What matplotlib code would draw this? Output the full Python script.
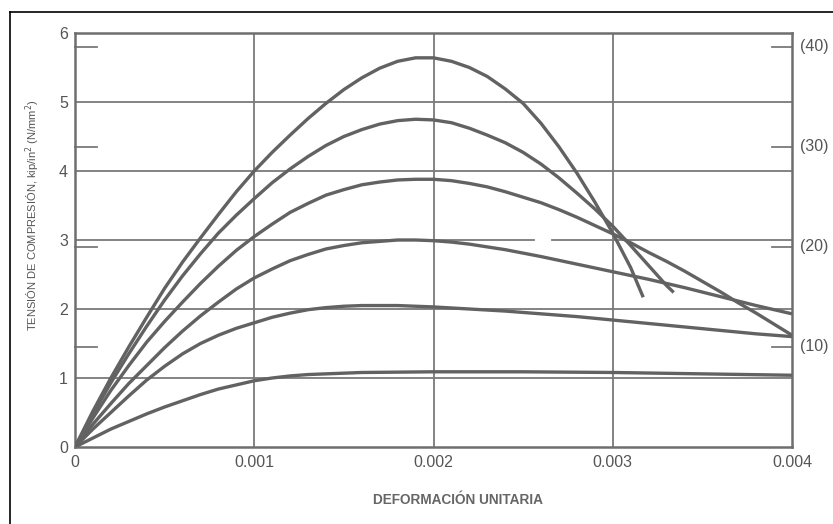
import matplotlib
matplotlib.use("Agg")
import matplotlib.pyplot as plt
from matplotlib.lines import Line2D

# ---- data (strain, stress in kip/in^2) ----
strain_a = [0, 0.0001, 0.0002, 0.0003, 0.0004, 0.0005, 0.0006, 0.0007, 0.0008, 0.0009, 0.001,
            0.0011, 0.0012, 0.0013, 0.0014, 0.0015, 0.0016, 0.0017, 0.0018, 0.0019, 0.002,
            0.0021, 0.0022, 0.0023, 0.0024, 0.0025, 0.0026, 0.0027, 0.0028, 0.0029, 0.003, 0.0031, 0.00317]
stress_a = [0, 0.52, 1.0, 1.45, 1.88, 2.3, 2.68, 3.03, 3.37, 3.7, 4.0,
            4.27, 4.52, 4.76, 4.98, 5.18, 5.35, 5.49, 5.59, 5.64, 5.64,
            5.59, 5.5, 5.37, 5.19, 4.98, 4.69, 4.35, 3.97, 3.55, 3.1, 2.6, 2.17]

strain_b = [0, 0.0001, 0.0002, 0.0003, 0.0004, 0.0005, 0.0006, 0.0007, 0.0008, 0.0009, 0.001,
            0.0011, 0.0012, 0.0013, 0.0014, 0.0015, 0.0016, 0.0017, 0.0018, 0.0019, 0.002,
            0.0021, 0.0022, 0.0023, 0.0024, 0.0025, 0.0026, 0.0027, 0.0028, 0.0029, 0.003,
            0.0031, 0.0032, 0.0033, 0.00334]
stress_b = [0, 0.48, 0.93, 1.35, 1.75, 2.13, 2.48, 2.8, 3.1, 3.36, 3.6,
            3.83, 4.03, 4.21, 4.37, 4.5, 4.6, 4.68, 4.73, 4.75, 4.74,
            4.7, 4.62, 4.52, 4.41, 4.27, 4.1, 3.9, 3.68, 3.45, 3.2,
            2.92, 2.63, 2.34, 2.24]

strain_c = [0, 0.0001, 0.0002, 0.0003, 0.0004, 0.0005, 0.0006, 0.0007, 0.0008, 0.0009, 0.001,
            0.0011, 0.0012, 0.0013, 0.0014, 0.0015, 0.0016, 0.0017, 0.0018, 0.0019, 0.002,
            0.0021, 0.0022, 0.0023, 0.0024, 0.0025, 0.0026, 0.0027, 0.0028, 0.0029, 0.003,
            0.0031, 0.0032, 0.0033, 0.0034, 0.0035, 0.0036, 0.0037, 0.0038, 0.0039, 0.004]
stress_c = [0, 0.42, 0.82, 1.18, 1.52, 1.82, 2.1, 2.37, 2.62, 2.85, 3.05,
            3.23, 3.4, 3.53, 3.65, 3.73, 3.8, 3.84, 3.87, 3.88, 3.88,
            3.86, 3.82, 3.77, 3.7, 3.62, 3.54, 3.44, 3.33, 3.21, 3.09,
            2.96, 2.82, 2.69, 2.55, 2.4, 2.25, 2.09, 1.94, 1.78, 1.62]

strain_d = [0, 0.0001, 0.0002, 0.0003, 0.0004, 0.0005, 0.0006, 0.0007, 0.0008, 0.0009, 0.001,
            0.0011, 0.0012, 0.0013, 0.0014, 0.0015, 0.0016, 0.0017, 0.0018, 0.0019, 0.002,
            0.0021, 0.0022, 0.0023, 0.0024, 0.0026, 0.0028, 0.003, 0.0032, 0.0034, 0.0036, 0.0038, 0.004]
stress_d = [0, 0.33, 0.63, 0.92, 1.18, 1.44, 1.68, 1.9, 2.1, 2.29, 2.45,
            2.58, 2.7, 2.79, 2.87, 2.92, 2.96, 2.98, 3.0, 3.0, 2.99,
            2.97, 2.94, 2.9, 2.86, 2.76, 2.65, 2.54, 2.43, 2.31, 2.18, 2.05, 1.93]

strain_e = [0, 0.0001, 0.0002, 0.0003, 0.0004, 0.0005, 0.0006, 0.0007, 0.0008, 0.0009, 0.001,
            0.0011, 0.0012, 0.0013, 0.0014, 0.0015, 0.0016, 0.0018, 0.002,
            0.0022, 0.0024, 0.0026, 0.0028, 0.003, 0.0032, 0.0034, 0.0036, 0.0038, 0.004]
stress_e = [0, 0.26, 0.5, 0.74, 0.97, 1.17, 1.35, 1.5, 1.62, 1.72, 1.8,
            1.88, 1.94, 1.99, 2.02, 2.04, 2.05, 2.05, 2.03,
            2.0, 1.97, 1.93, 1.89, 1.84, 1.79, 1.74, 1.69, 1.64, 1.6]

strain_f = [0, 0.0001, 0.0002, 0.0003, 0.0004, 0.0005, 0.0006, 0.0007, 0.0008, 0.0009, 0.001,
            0.0011, 0.0012, 0.0013, 0.0014, 0.0016, 0.002, 0.0025, 0.003, 0.0035, 0.004]
stress_f = [0, 0.13, 0.26, 0.37, 0.48, 0.58, 0.67, 0.76, 0.84, 0.9, 0.96,
            1.0, 1.03, 1.05, 1.06, 1.08, 1.09, 1.09, 1.08, 1.06, 1.04]

x_ticks = [0, 0.001, 0.002, 0.003, 0.004]
x_ticklabels = ["0", "0.001", "0.002", "0.003", "0.004"]
y_ticks = [0, 1, 2, 3, 4, 5, 6]
y_ticklabels = ["0", "1", "2", "3", "4", "5", "6"]
si_values = [10, 20, 30, 40]          # N/mm^2
si_labels = ["(10)", "(20)", "(30)", "(40)"]
KSI_PER_MPA = 1 / 6.895

curves = [(strain_a, stress_a), (strain_b, stress_b), (strain_c, stress_c),
          (strain_d, stress_d), (strain_e, stress_e), (strain_f, stress_f)]

FONT = ["Liberation Sans", "DejaVu Sans"]
plt.rcParams["font.family"] = FONT

W, H = 833, 524
fig = plt.figure(figsize=(W / 100, H / 100), dpi=100)
ax = fig.add_axes([75 / W, 1 - 447 / H, (792 - 75) / W, (447 - 33) / H])

grid_c = "#7a7a7a"
curve_c = "#626262"
text_c = "#555555"

ax.set_xlim(0, 0.004)
ax.set_ylim(0, 6)

# grid
for yv in [1, 2, 4, 5]:
    ax.axhline(yv, color=grid_c, lw=1.3, zorder=1)
ax.plot([0, 0.00256], [3, 3], color=grid_c, lw=1.3, zorder=1)
ax.plot([0.00266, 0.004], [3, 3], color=grid_c, lw=1.3, zorder=1)
for xv in [0.001, 0.002, 0.003]:
    ax.axvline(xv, color=grid_c, lw=1.3, zorder=1)

# inward ticks for N/mm^2 on both sides
ytr = ax.get_yaxis_transform()
for v, lab in zip(si_values, si_labels):
    yv = v * KSI_PER_MPA
    ax.plot([0, 0.03], [yv, yv], color=grid_c, lw=1.3, transform=ytr, clip_on=False)
    ax.plot([0.972, 1.0], [yv, yv], color=grid_c, lw=1.3, transform=ytr, clip_on=False)
    ax.text(1.011, yv, lab, transform=ytr, ha="left", va="center", fontsize=11.5, color=text_c)

for sx, sy in curves:
    ax.plot(sx, sy, color=curve_c, lw=2.4, zorder=3, solid_capstyle="butt",
            solid_joinstyle="round")

for s in ax.spines.values():
    s.set_color("#6e6e6e")
    s.set_linewidth(1.8)

ax.set_xticks(x_ticks)
ax.set_xticklabels(x_ticklabels)
ax.set_yticks(y_ticks)
ax.set_yticklabels(y_ticklabels)
ax.tick_params(length=0, labelsize=11.5, labelcolor=text_c)
ax.tick_params(axis="x", pad=6)
ax.tick_params(axis="y", pad=5)

fig.text(458 / W, 1 - 500 / H, "DEFORMACIÓN UNITARIA", ha="center", va="center",
         fontsize=9.8, fontweight="bold", color="#666666")
fig.text(33 / W, 1 - 215 / H, "TENSIÓN DE COMPRESIÓN, kip/in$^2$ (N/mm$^2$)", rotation=90,
         ha="center", va="center", fontsize=8, color=text_c)

# outer frame
fig.add_artist(Line2D([10 / W, 1], [1 - 12 / H, 1 - 12 / H], color="black", lw=1.2))
fig.add_artist(Line2D([10 / W, 10 / W], [0, 1 - 12 / H], color="black", lw=1.2))

fig.savefig("out.png", dpi=100)
